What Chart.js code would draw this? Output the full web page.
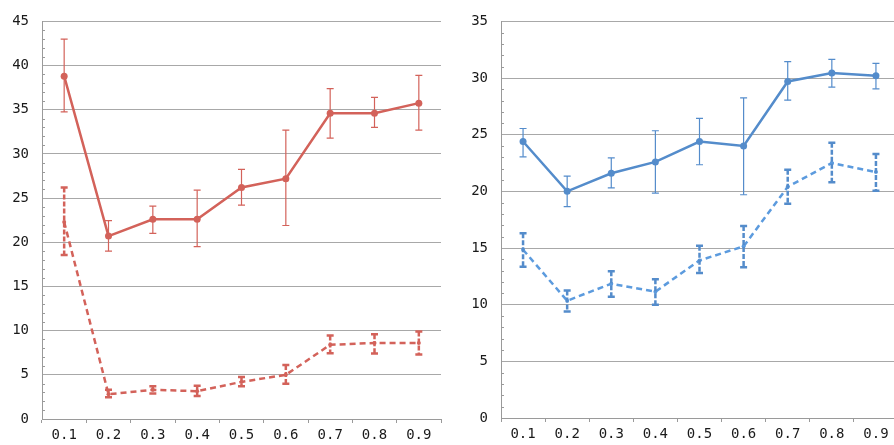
<!DOCTYPE html>
<html><head><meta charset="utf-8">
<script src="https://cdn.jsdelivr.net/npm/chart.js@4/dist/chart.umd.min.js"></script>
<style>
html,body{margin:0;padding:0;background:#fff;overflow:hidden;width:894px;height:445px;}
canvas{position:absolute;top:0;}
#c1{left:0;}
#c2{left:450px;}
</style></head>
<body>
<canvas id="c1" width="450" height="445"></canvas>
<canvas id="c2" width="452" height="445"></canvas>
<script>
const categories = ['0.1','0.2','0.3','0.4','0.5','0.6','0.7','0.8','0.9'];

const redSolid   = [38.8, 20.7, 22.6, 22.6, 26.2, 27.2, 34.6, 34.6, 35.75];
const redSolidHi = [43.0, 22.45, 24.1, 25.9, 28.25, 32.7, 37.4, 36.4, 38.9];
const redSolidLo = [34.75, 19.0, 21.0, 19.5, 24.2, 21.9, 31.8, 33.0, 32.7];
const redDashed   = [22.3, 2.8, 3.3, 3.15, 4.2, 5.0, 8.4, 8.6, 8.6];
const redDashedHi = [26.2, 3.3, 3.7, 3.75, 4.75, 6.1, 9.45, 9.6, 9.9];
const redDashedLo = [18.55, 2.45, 2.9, 2.6, 3.7, 4.0, 7.45, 7.4, 7.3];

const blueSolid   = [24.4, 20.0, 21.6, 22.6, 24.4, 24.0, 29.7, 30.45, 30.2];
const blueSolidHi = [25.55, 21.35, 22.95, 25.35, 26.45, 28.25, 31.45, 31.65, 31.3];
const blueSolidLo = [23.05, 18.65, 20.3, 19.85, 22.35, 19.7, 28.05, 29.2, 29.05];
const blueDashed   = [14.85, 10.35, 11.85, 11.15, 13.9, 15.15, 20.4, 22.5, 21.7];
const blueDashedHi = [16.3, 11.25, 12.95, 12.25, 15.2, 16.95, 21.9, 24.3, 23.3];
const blueDashedLo = [13.35, 9.4, 10.7, 10.0, 12.8, 13.3, 18.9, 20.8, 20.05];

const leftYMax = 45;
const rightYMax = 35;
const yStep = 5;

const RED = 'rgb(211,98,90)';
const BLUE = 'rgb(84,140,203)';
const BLUE2 = 'rgb(92,155,222)';
const GRID = '#a8a8a8';
const AXIS = '#9a9a9a';
const FONT = {family: '"DejaVu Sans Mono", "Liberation Mono", monospace', size: 14};

const errorBarPlugin = {
  id: 'errbars',
  afterDatasetsDraw(chart) {
    const ctx = chart.ctx;
    const ys = chart.scales.y, xs = chart.scales.x;
    chart.data.datasets.forEach(ds => {
      if (!ds.errHi) return;
      ctx.save();
      ctx.strokeStyle = ds.errColor || ds.borderColor;
      ctx.lineWidth = ds.errWidth;
      ctx.setLineDash(ds.errDash || []);
      ds.data.forEach((v, i) => {
        const x = xs.getPixelForValue(i);
        const yh = ys.getPixelForValue(ds.errHi[i]);
        const yl = ys.getPixelForValue(ds.errLo[i]);
        ctx.beginPath();
        ctx.moveTo(x, yh); ctx.lineTo(x, yl);
        ctx.stroke();
        ctx.setLineDash([]);
        ctx.beginPath();
        ctx.moveTo(x - 3.5, yh); ctx.lineTo(x + 3.5, yh);
        ctx.moveTo(x - 3.5, yl); ctx.lineTo(x + 3.5, yl);
        ctx.stroke();
        ctx.setLineDash(ds.errDash || []);
      });
      ctx.restore();
    });
  }
};

const minorTickPlugin = {
  id: 'minorTicks',
  afterDraw(chart) {
    const ctx = chart.ctx;
    const ys = chart.scales.y;
    const x0 = chart.chartArea.left;
    ctx.save();
    ctx.strokeStyle = AXIS;
    ctx.lineWidth = 1;
    for (let v = ys.min + 1; v < ys.max; v++) {
      if (v % yStep === 0) continue;
      const y = Math.round(ys.getPixelForValue(v)) + 0.5;
      ctx.beginPath();
      ctx.moveTo(x0, y); ctx.lineTo(x0 + 3, y);
      ctx.stroke();
    }
    ctx.restore();
  }
};

function makeChart(id, yMax, yWidth, xHeight, padRight, sets) {
  return new Chart(document.getElementById(id), {
    type: 'line',
    data: { labels: categories, datasets: sets },
    options: {
      responsive: false,
      animation: false,
      devicePixelRatio: 1,
      layout: { padding: { top: 15, right: padRight, left: 0, bottom: 0 } },
      plugins: { legend: { display: false }, tooltip: { enabled: false } },
      scales: {
        x: {
          type: 'category',
          offset: true,
          grid: { offset: true, drawOnChartArea: false, drawTicks: true, tickLength: 4, color: AXIS },
          border: { display: true, color: AXIS },
          ticks: { font: FONT, color: '#1a1a1a', padding: 4, maxRotation: 0 },
          afterFit(s) { s.height = xHeight; }
        },
        y: {
          min: 0, max: yMax,
          grid: { color: GRID, lineWidth: 1, drawTicks: false },
          border: { display: true, color: AXIS },
          ticks: { stepSize: yStep, font: FONT, color: '#1a1a1a', padding: 13 },
          afterFit(s) { s.width = yWidth; }
        }
      }
    },
    plugins: [errorBarPlugin, minorTickPlugin]
  });
}

makeChart('c1', leftYMax, 42, 26, 9, [
  { data: redSolid, errHi: redSolidHi, errLo: redSolidLo, borderColor: RED, backgroundColor: RED,
    borderWidth: 2.5, pointRadius: 3.5, pointBorderWidth: 0, errWidth: 1.2, tension: 0 },
  { data: redDashed, errHi: redDashedHi, errLo: redDashedLo, borderColor: RED, backgroundColor: RED,
    borderWidth: 2.5, borderDash: [6, 4], pointRadius: 2, pointBorderWidth: 0, errWidth: 2.5, errDash: [5, 2], tension: 0 }
]);

makeChart('c2', rightYMax, 51, 27, 2, [
  { data: blueSolid, errHi: blueSolidHi, errLo: blueSolidLo, borderColor: BLUE, backgroundColor: BLUE,
    borderWidth: 2.5, pointRadius: 3.5, pointBorderWidth: 0, errWidth: 1.2, tension: 0 },
  { data: blueDashed, errHi: blueDashedHi, errLo: blueDashedLo, borderColor: BLUE2, backgroundColor: BLUE2,
    borderWidth: 2.5, borderDash: [6, 4], pointRadius: 2, pointBorderWidth: 0, errWidth: 2.5, errDash: [5, 2], errColor: BLUE, tension: 0 }
]);
</script>
</body></html>
